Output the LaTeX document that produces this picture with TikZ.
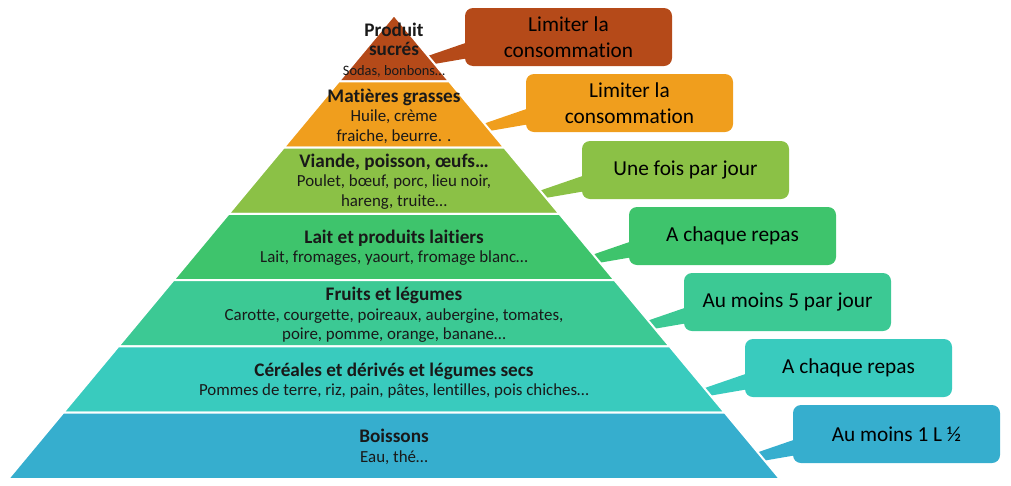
\documentclass[tikz,border=0pt]{standalone}
\usepackage{fontspec}
\setmainfont[Ligatures=NoCommon]{Carlito}
\usepackage{tikz}
\usetikzlibrary{calc}

\definecolor{csucre}{RGB}{181,74,25}
\definecolor{cgras}{RGB}{240,158,29}
\definecolor{cviande}{RGB}{139,193,70}
\definecolor{clait}{RGB}{62,196,108}
\definecolor{cfruit}{RGB}{60,201,148}
\definecolor{ccereale}{RGB}{57,203,190}
\definecolor{cboisson}{RGB}{54,174,206}

\newcommand{\entete}[1]{{\fontsize{19.2}{19.5}\selectfont\bfseries #1}}

\begin{document}
\begin{tikzpicture}[x=1pt, y=-1pt,
    layer/.style={draw=white, line width=2pt, line join=round},
    conseil/.style={rectangle, rounded corners=8pt, minimum width=207pt,
      minimum height=58pt, inner sep=0pt, align=center,
      font=\fontsize{21.3}{26}\selectfont},
    etage/.style={align=center, inner sep=0pt, text=black!90,
      font=\fontsize{16.9}{19.5}\selectfont}]

  \useasboundingbox (0,0) rectangle (1011,485);

  % Define nodes
  \node[conseil, fill=csucre]   (b1) at (568.5,37)  {Limiter la\\consommation};
  \node[conseil, fill=cgras]    (b2) at (629.5,103) {Limiter la\\consommation};
  \node[conseil, fill=cviande]  (b3) at (685.5,170) {Une fois par jour};
  \node[conseil, fill=clait]    (b4) at (732.5,236) {A chaque repas};
  \node[conseil, fill=cfruit]   (b5) at (787.5,302) {Au moins 5 par jour};
  \node[conseil, fill=ccereale] (b6) at (848.5,368) {A chaque repas};
  \node[conseil, fill=cboisson] (b7) at (896.5,434) {Au moins 1 L ½};

  % pointers, the pyramid covers their tips
  \fill[csucre]   ($(b1.south west)+(3,-24)$) -- ($(b1.south west)+(3,-8)$) -- ($(b1.south west)+(-90,8)$) -- cycle;
  \fill[cgras]    ($(b2.south west)+(3,-24)$) -- ($(b2.south west)+(3,-8)$) -- ($(b2.south west)+(-90,8)$) -- cycle;
  \fill[cviande]  ($(b3.south west)+(3,-24)$) -- ($(b3.south west)+(3,-8)$) -- ($(b3.south west)+(-90,8)$) -- cycle;
  \fill[clait]    ($(b4.south west)+(3,-24)$) -- ($(b4.south west)+(3,-8)$) -- ($(b4.south west)+(-90,8)$) -- cycle;
  \fill[cfruit]   ($(b5.south west)+(3,-24)$) -- ($(b5.south west)+(3,-8)$) -- ($(b5.south west)+(-90,8)$) -- cycle;
  \fill[ccereale] ($(b6.south west)+(3,-24)$) -- ($(b6.south west)+(3,-8)$) -- ($(b6.south west)+(-90,8)$) -- cycle;
  \fill[cboisson] ($(b7.south west)+(3,-24)$) -- ($(b7.south west)+(3,-8)$) -- ($(b7.south west)+(-90,8)$) -- cycle;

  % pyramid
  \coordinate (apex) at (394,15);
  \coordinate (bl) at (8,479);
  \coordinate (br) at (780,479);
  \foreach \k in {1,...,6} {
    \coordinate (l\k) at ($(apex)!\k/7!(bl)$);
    \coordinate (r\k) at ($(apex)!\k/7!(br)$);
  }

  \filldraw[layer, fill=csucre]   (apex) -- (r1) -- (l1) -- cycle;
  \filldraw[layer, fill=cgras]    (l1) -- (r1) -- (r2) -- (l2) -- cycle;
  \filldraw[layer, fill=cviande]  (l2) -- (r2) -- (r3) -- (l3) -- cycle;
  \filldraw[layer, fill=clait]    (l3) -- (r3) -- (r4) -- (l4) -- cycle;
  \filldraw[layer, fill=cfruit]   (l4) -- (r4) -- (r5) -- (l5) -- cycle;
  \filldraw[layer, fill=ccereale] (l5) -- (r5) -- (r6) -- (l6) -- cycle;
  \filldraw[layer, fill=cboisson] (l6) -- (r6) -- (br) -- (bl) -- cycle;

  \node[etage] (sucre) at (394,50)
    {\entete{Produit}\\\entete{sucrés}\\{\fontsize{14.4}{19.5}\selectfont Sodas, bonbons…}};
  \node[etage] (gras) at (394,116)
    {\entete{Matières grasses}\\Huile, crème\\fraiche, beurre. .};
  \node[etage] (viande) at (394,181.5)
    {\entete{Viande, poisson, œufs…}\\Poulet, bœuf, porc, lieu noir,\\hareng, truite…};
  \node[etage] (lait) at (394,247.5)
    {\entete{Lait et produits laitiers}\\Lait, fromages, yaourt, fromage blanc…};
  \node[etage] (fruit) at (394,315)
    {\entete{Fruits et légumes}\\Carotte, courgette, poireaux, aubergine, tomates,\\poire, pomme, orange, banane…};
  \node[etage] (cereale) at (394,380.5)
    {\entete{Céréales et dérivés et légumes secs}\\Pommes de terre, riz, pain, pâtes, lentilles, pois chiches…};
  \node[etage] (boisson) at (394,447)
    {\entete{Boissons}\\Eau, thé…};

\end{tikzpicture}
\end{document}
